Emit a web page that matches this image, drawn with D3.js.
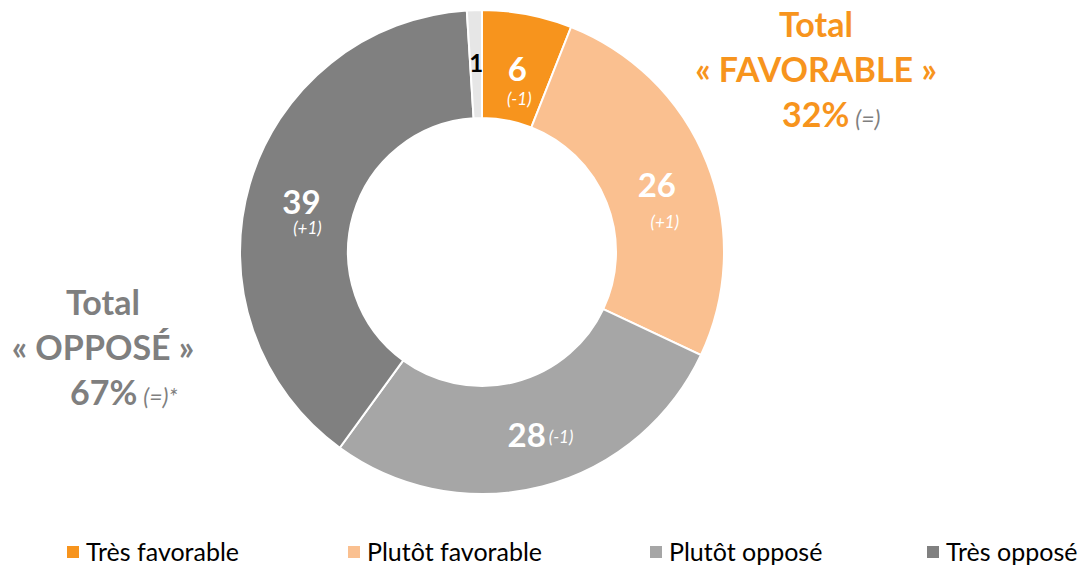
<!DOCTYPE html>
<html>
<head>
<meta charset="utf-8">
<script src="https://cdn.jsdelivr.net/npm/d3@7"></script>
<style>
  body { margin: 0; background: #fff; }
  svg { display: block; font-family: Lato, "Open Sans", sans-serif; }
</style>
</head>
<body>
<script>
var width = 1081, height = 565;

// donnees
var categories = ["Très favorable", "Plutôt favorable", "Plutôt opposé", "Très opposé", "NSP"];
var values = [6, 26, 28, 39, 1];
var deltas = ["(-1)", "(+1)", "(-1)", "(+1)", ""];
var colors = ["#f7941d", "#fac090", "#a6a6a6", "#808080", "#e6e6e6"];
var legendItems = ["Très favorable", "Plutôt favorable", "Plutôt opposé", "Très opposé"];

var cx = 482, cy = 252;
var outerR = 242, innerR = 134;

var svg = d3.select("body").append("svg")
    .attr("width", width)
    .attr("height", height);

var pie = d3.pie().sort(null).value(function (d) { return d; });
var arcs = pie(values);

var arc = d3.arc().innerRadius(innerR).outerRadius(outerR);
var labelArc = d3.arc().innerRadius(188).outerRadius(188);

var g = svg.append("g").attr("transform", "translate(" + cx + "," + cy + ")");

g.selectAll("path.slice")
    .data(arcs)
    .enter()
    .append("path")
    .attr("class", "slice")
    .attr("d", arc)
    .attr("fill", function (d, i) { return colors[i]; })
    .attr("stroke", "#fff")
    .attr("stroke-width", 2);

// etiquettes des valeurs
arcs.forEach(function (d, i) {
    var c = labelArc.centroid(d);
    if (i === 4) {
        g.append("text")
            .attr("x", c[0])
            .attr("y", c[1] + 8)
            .attr("text-anchor", "middle")
            .attr("font-size", 24)
            .attr("font-weight", "bold")
            .attr("fill", "#000")
            .text(values[i]);
        return;
    }
    if (i === 2) { // 28 avec delta sur la meme ligne
        g.append("text")
            .attr("x", c[0] - 2)
            .attr("y", c[1] + 13)
            .attr("text-anchor", "middle")
            .attr("font-size", 33)
            .attr("font-weight", "bold")
            .attr("fill", "#fff")
            .text(values[i]);
        g.append("text")
            .attr("x", c[0] + 20)
            .attr("y", c[1] + 9)
            .attr("font-size", 17)
            .attr("font-style", "italic")
            .attr("fill", "#fff")
            .text(deltas[i]);
        return;
    }
    g.append("text")
        .attr("x", c[0])
        .attr("y", c[1] + 14)
        .attr("text-anchor", "middle")
        .attr("font-size", 33)
        .attr("font-weight", "bold")
        .attr("fill", "#fff")
        .text(values[i]);
    var dy = (i === 1) ? 45 : (i === 0 ? 38 : 34);
    var dx = (i === 1) ? 8 : (i === 3 ? 6 : 2);
    g.append("text")
        .attr("x", c[0] + dx)
        .attr("y", c[1] + dy)
        .attr("text-anchor", "middle")
        .attr("font-size", 17)
        .attr("font-style", "italic")
        .attr("fill", "#fff")
        .text(deltas[i]);
});

// totaux
var totalFav = values[0] + values[1];
var totalOpp = values[2] + values[3];

function total(x, y, label, value, color, note, px) {
    var t = svg.append("g").attr("fill", color).attr("font-weight", "bold").attr("font-size", 34);
    t.append("text").attr("x", x).attr("y", y).attr("text-anchor", "middle").text("Total");
    t.append("text").attr("x", x).attr("y", y + 45).attr("text-anchor", "middle").text("« " + label + " »");
    var p = t.append("text").attr("x", px).attr("y", y + 90);
    p.append("tspan").text(value + "%");
    p.append("tspan").attr("dx", 6).attr("font-size", 23).attr("font-weight", "normal")
        .attr("font-style", "italic").attr("fill", "#7f7f7f").text(note);
}

total(816, 37, "FAVORABLE", totalFav, "#f7941d", "(=)", 782);
total(103, 315, "OPPOSÉ", totalOpp, "#7f7f7f", "(=)*", 70);

// legende
var legendX = [67, 348, 650, 927];
var legend = svg.selectAll("g.legend")
    .data(legendItems)
    .enter()
    .append("g")
    .attr("class", "legend")
    .attr("transform", function (d, i) { return "translate(" + legendX[i] + ",552)"; });

legend.append("rect")
    .attr("x", 0).attr("y", -6)
    .attr("width", 12).attr("height", 12)
    .attr("fill", function (d, i) { return colors[i]; });

legend.append("text")
    .attr("x", 19).attr("y", 9)
    .attr("font-size", 25)
    .attr("fill", "#000")
    .text(function (d) { return d; });
</script>
</body>
</html>
